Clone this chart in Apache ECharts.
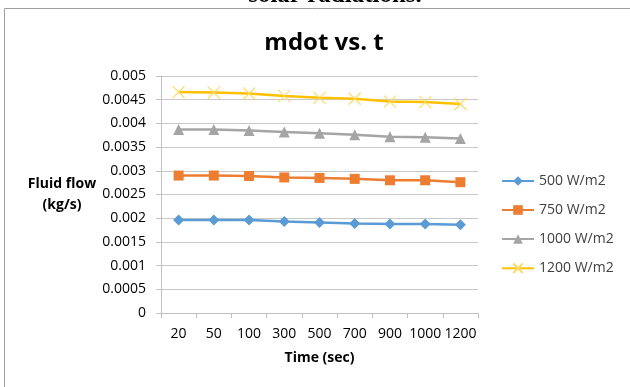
<!DOCTYPE html>
<html><head><meta charset="utf-8">
<script src="https://cdn.jsdelivr.net/npm/echarts@6/dist/echarts.min.js"></script>
<style>html,body{margin:0;padding:0;background:#fff}#c{width:630px;height:387px}</style>
</head><body><div id="c"></div>
<script>
const categories = ['20','50','100','300','500','700','900','1000','1200'];
const s500 = [0.00196,0.00196,0.00196,0.00193,0.00191,0.00189,0.00188,0.00188,0.00186];
const s750 = [0.00290,0.00290,0.00289,0.00286,0.00285,0.00283,0.00280,0.00280,0.00276];
const s1000 = [0.00387,0.00387,0.00385,0.00382,0.00379,0.00376,0.00372,0.00371,0.00368];
const s1200 = [0.00466,0.00465,0.00463,0.00458,0.00454,0.00452,0.00446,0.00445,0.00441];
const yTicks = ['0','0.0005','0.001','0.0015','0.002','0.0025','0.003','0.0035','0.004','0.0045','0.005'];
const font = "'Open Sans', 'Liberation Sans', sans-serif";
const chart = echarts.init(document.getElementById('c'));
function ser(name, data, color, symbol, size){
  return {name, type:'line', data, symbol, symbolSize:size,
    lineStyle:{color, width:2.5}, itemStyle:{color}, emphasis:{disabled:true}};
}
chart.setOption({
  animation:false,
  graphic:[
    {type:'rect', shape:{x:4.5,y:8.5,width:700,height:500}, style:{fill:'none', stroke:'#a0a0a0', lineWidth:1}},
    {type:'text', x:335, y:-17, z:100, style:{text:'solar radiations.', textAlign:'center', fontSize:25, fontWeight:'bold', fontFamily:"'Liberation Serif', serif", fill:'#000'}}
  ],
  title:{text:'mdot vs. t', left:319, textAlign:'center', top:26,
    textStyle:{fontFamily:font, fontSize:24, fontWeight:'bold', color:'#000'}},
  grid:{left:161, right:152, top:76, bottom:74},
  legend:{orient:'vertical', left:501, top:174, padding:0, itemGap:15, itemWidth:32, itemHeight:12,
    textStyle:{fontFamily:font, fontSize:14, color:'#404040'},
    data:['500 W/m2','750 W/m2','1000 W/m2','1200 W/m2']},
  xAxis:{type:'category', data:categories, boundaryGap:true,
    name:'Time (sec)', nameLocation:'middle', nameGap:38,
    nameTextStyle:{fontFamily:font, fontSize:14, fontWeight:'bold', color:'#000'},
    axisLine:{lineStyle:{color:'#c0c0c0'}},
    axisTick:{show:true, alignWithLabel:false, interval:0, length:5, lineStyle:{color:'#c0c0c0'}},
    axisLabel:{interval:0, fontFamily:font, fontSize:14, color:'#000', margin:14}},
  yAxis:{type:'value', min:0, max:0.005, interval:0.0005,
    name:'Fluid flow\n(kg/s)', nameLocation:'middle', nameGap:99, nameRotate:0,
    nameTextStyle:{fontFamily:font, fontSize:14, fontWeight:'bold', color:'#000', lineHeight:21, align:'center'},
    axisLine:{show:true, lineStyle:{color:'#c0c0c0'}},
    axisTick:{show:true, length:5, lineStyle:{color:'#c0c0c0'}},
    splitLine:{lineStyle:{color:'#c8c8c8'}},
    axisLabel:{fontFamily:font, fontSize:14, color:'#000', margin:15,
      formatter:(v)=>yTicks[Math.round(v/0.0005)]}},
  series:[
    ser('500 W/m2', s500, '#5b9bd5', 'diamond', 11),
    ser('750 W/m2', s750, '#ed7d31', 'rect', 10),
    ser('1000 W/m2', s1000, '#a5a5a5', 'triangle', 11),
    {name:'1200 W/m2', type:'line', data:s1200, symbol:'path://M0,0L10,10M10,0L0,10', symbolSize:12,
      lineStyle:{color:'#ffc000', width:2.5}, itemStyle:{color:'none', borderColor:'#ffd966', borderWidth:1.2}, emphasis:{disabled:true}}
  ]
});
</script></body></html>
